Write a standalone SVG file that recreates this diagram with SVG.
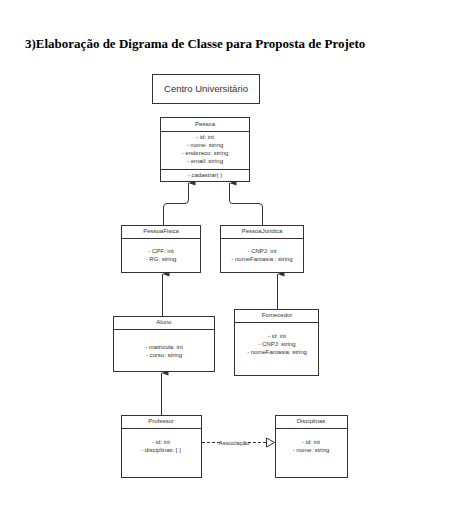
<svg xmlns="http://www.w3.org/2000/svg" width="454" height="509" viewBox="0 0 454 509">
<style>
.box{fill:#fff;stroke:#333;stroke-width:1}
.ln{stroke:#333;stroke-width:1;fill:none}
.t{font-family:"Liberation Sans",Arial,sans-serif;font-size:6px;fill:#333;text-anchor:middle}
.title{font-family:"Liberation Serif","Times New Roman",serif;font-size:13px;font-weight:bold;fill:#000}
</style>
<defs>
<marker id="arr" viewBox="0 0 5 7" refX="2.5" refY="0" markerWidth="5" markerHeight="7" markerUnits="userSpaceOnUse" orient="auto-start-reverse">
<path d="M0,7 L2.5,0 L5,7 Z" fill="#333"/>
</marker>
</defs>
<rect width="454" height="509" fill="#fff"/>
<text class="title" x="25" y="48">3)Elaboração de Digrama de Classe para Proposta de Projeto</text>

<g id="centro">
<rect class="box" x="152.5" y="74.5" width="107" height="29"/>
<text class="t" x="206" y="92" style="font-size:9.5px">Centro Universitário</text>
</g>

<g id="pessoa">
<rect class="box" x="160.5" y="117.5" width="89" height="64"/>
<line class="ln" x1="160.5" y1="131.5" x2="249.5" y2="131.5"/>
<line class="ln" x1="160.5" y1="169.5" x2="249.5" y2="169.5"/>
<text class="t" x="205" y="126">Pessoa</text>
<text class="t" x="205" y="139">- id: int</text>
<text class="t" x="205" y="147">- nome: string</text>
<text class="t" x="205" y="155">- endereco: string</text>
<text class="t" x="205" y="163">- email: string</text>
<text class="t" x="205" y="177">- cadastrar( )</text>
</g>

<g id="pessoafisica">
<rect class="box" x="121.5" y="225.5" width="79" height="47"/>
<line class="ln" x1="121.5" y1="238.5" x2="200.5" y2="238.5"/>
<text class="t" x="161" y="233">PessoaFisica</text>
<text class="t" x="161" y="253">- CPF: int</text>
<text class="t" x="161" y="261">- RG: string</text>
</g>

<g id="pessoajuridica">
<rect class="box" x="220.5" y="225.5" width="83" height="47"/>
<line class="ln" x1="220.5" y1="238.5" x2="303.5" y2="238.5"/>
<text class="t" x="262" y="233">PessoaJuridica</text>
<text class="t" x="262" y="253">- CNPJ: int</text>
<text class="t" x="262" y="261">- nomeFantasia : string</text>
</g>

<g id="aluno">
<rect class="box" x="113.5" y="316.5" width="101" height="55"/>
<line class="ln" x1="113.5" y1="329.5" x2="214.5" y2="329.5"/>
<text class="t" x="164" y="324">Aluno</text>
<text class="t" x="164" y="349">- matricula: int</text>
<text class="t" x="164" y="357">- curso: string</text>
</g>

<g id="fornecedor">
<rect class="box" x="234.5" y="309.5" width="84" height="66"/>
<line class="ln" x1="234.5" y1="322.5" x2="318.5" y2="322.5"/>
<text class="t" x="277" y="317">Fornecedor</text>
<text class="t" x="277" y="338">- id: int</text>
<text class="t" x="277" y="346">- CNPJ: string</text>
<text class="t" x="277" y="354">- nomeFantasia: string</text>
</g>

<g id="professor">
<rect class="box" x="121.5" y="415.5" width="80" height="62"/>
<line class="ln" x1="121.5" y1="428.5" x2="201.5" y2="428.5"/>
<text class="t" x="161" y="423">Professor</text>
<text class="t" x="161" y="444">- id: int</text>
<text class="t" x="161" y="452">- disciplinas: [ ]</text>
</g>

<g id="disciplinas">
<rect class="box" x="275.5" y="415.5" width="72" height="62"/>
<line class="ln" x1="275.5" y1="428.5" x2="347.5" y2="428.5"/>
<text class="t" x="311" y="423">Disciplinas</text>
<text class="t" x="311" y="444">- id: int</text>
<text class="t" x="311" y="452">- nome: string</text>
</g>

<g id="connectors">
<path class="ln" d="M163.5,225 L163.5,207 Q163.5,203.5 167,203.5 L185,203.5 Q188.5,203.5 188.5,200 L188.5,183" marker-end="url(#arr)"/>
<path class="ln" d="M262.5,225 L262.5,207 Q262.5,203.5 259,203.5 L232,203.5 Q229.5,203.5 229.5,200 L229.5,183" marker-end="url(#arr)"/>
<path class="ln" d="M162.5,316 L162.5,274" marker-end="url(#arr)"/>
<path class="ln" d="M277.5,309 L277.5,274" marker-end="url(#arr)"/>
<path class="ln" d="M161.5,415 L161.5,373" marker-end="url(#arr)"/>
<line class="ln" x1="202" y1="442.5" x2="220" y2="442.5" stroke-dasharray="3,2"/>
<line class="ln" x1="248" y1="442.5" x2="266.5" y2="442.5" stroke-dasharray="3,2"/>
<path class="ln" d="M266.5,438 L274.5,442.5 L266.5,447 Z"/>
<text class="t" x="234" y="444.5">Associação</text>
</g>
</svg>
